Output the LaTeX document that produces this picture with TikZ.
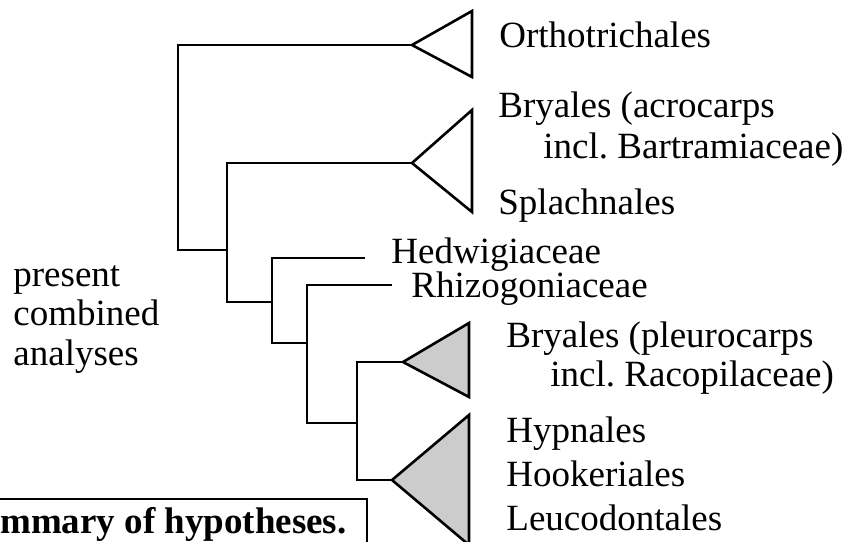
\documentclass[tikz,border=0pt]{standalone}
\usepackage{fontspec}
\setmainfont{Liberation Serif}
\frenchspacing

\begin{document}
\begin{tikzpicture}[x=1pt, y=-1pt, line width=2.8pt, line join=miter,
    clade/.style={draw, line width=2.6pt},
    shaded/.style={clade, fill=black!20},
    taxon/.style={anchor=base west, inner sep=0pt, font=\fontsize{37}{40}\selectfont},
    caption/.style={anchor=base east, inner sep=0pt, font=\fontsize{37}{40}\selectfont\bfseries}]
    \useasboundingbox (0,0) rectangle (850,541);
    \clip (0,0) rectangle (850,541);

    % Coordinates
    \coordinate (Root1) at (178,45);
    \coordinate (Root2) at (178,250);
    \coordinate (N1a) at (227,163);
    \coordinate (N1b) at (227,250);
    \coordinate (N1c) at (227,302);
    \coordinate (N2a) at (272,258);
    \coordinate (N2b) at (272,302);
    \coordinate (N2c) at (272,343);
    \coordinate (N3a) at (307,285);
    \coordinate (N3b) at (307,343);
    \coordinate (N3c) at (307,423);
    \coordinate (N4a) at (357,362);
    \coordinate (N4b) at (357,423);
    \coordinate (N4c) at (357,480);
    \coordinate (HedEnd) at (365,258);
    \coordinate (RhiEnd) at (392,285);

    % Triangle tips
    \coordinate (OrtTip) at (412,45);
    \coordinate (AcrTip) at (412,163);
    \coordinate (PleTip) at (403,362);
    \coordinate (HypTip) at (392,480);

    % Branches
    \draw (OrtTip) -- (Root1) -- (Root2) -- (N1b);
    \draw (AcrTip) -- (N1a) -- (N1c) -- (N2b);
    \draw (HedEnd) -- (N2a) -- (N2c) -- (N3b);
    \draw (RhiEnd) -- (N3a) -- (N3c) -- (N4b);
    \draw (PleTip) -- (N4a) -- (N4c) -- (HypTip);

    % Collapsed clades
    \path[clade] (OrtTip) -- ++(60,-34) -- ++(0,66) -- cycle;
    \path[clade] (AcrTip) -- ++(60,-53) -- ++(0,102) -- cycle;
    \path[shaded] (PleTip) -- ++(66,-39) -- ++(0,74) -- cycle;
    \path[shaded] (HypTip) -- ++(77,-65) -- ++(0,130) -- cycle;

    % Taxon labels
    \node[taxon] (ort) at (498,47) {Orthotrichales};
    \node[taxon] (acr1) at (497,117) {Bryales (acrocarps};
    \node[taxon] (acr2) at (542,158) {incl. Bartramiaceae)};
    \node[taxon] (spl) at (497,214) {Splachnales};
    \node[taxon] (hed) at (390,263) {Hedwigiaceae};
    \node[taxon] (rhi) at (410,297) {Rhizogoniaceae};
    \node[taxon] (ple1) at (505,347) {Bryales (pleurocarps};
    \node[taxon] (ple2) at (549,386) {incl. Racopilaceae)};
    \node[taxon] (hyp) at (505,442) {Hypnales};
    \node[taxon] (hoo) at (505,486) {Hookeriales};
    \node[taxon] (leu) at (505,530) {Leucodontales};

    % Left labels
    \node[taxon] (pres) at (12,286) {present};
    \node[taxon] (comb) at (12,325) {combined};
    \node[taxon] (anal) at (12,365) {analyses};

    % Caption box (cut off at the page edge)
    \draw[line width=2pt] (-20,499) rectangle (367,580);
    \node[caption] (summary) at (348,533) {mmary of hypotheses.};
\end{tikzpicture}
\end{document}
